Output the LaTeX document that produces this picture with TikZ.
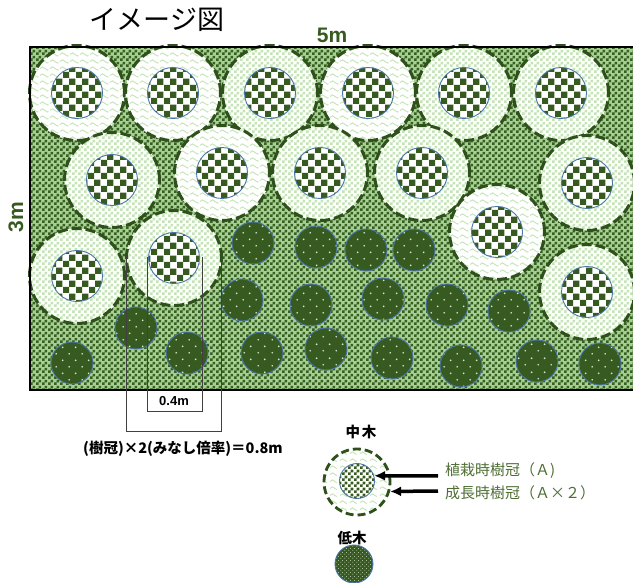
\documentclass[tikz,border=0pt]{standalone}
\usepackage{fontspec}
\setmainfont{Liberation Sans}
\newfontfamily\jpfont{Noto Sans CJK JP}
\usepackage{tikz}
\usetikzlibrary{arrows.meta,patterns}
\definecolor{treegreen}{RGB}{55,90,32}
\definecolor{rimgreen}{RGB}{46,80,26}
\definecolor{bggreen}{RGB}{52,96,32}
\definecolor{bglight}{RGB}{168,206,148}
\definecolor{palegreen}{RGB}{196,228,182}
\definecolor{wavegreen}{RGB}{200,230,188}
\definecolor{dotgreen}{RGB}{214,228,204}
\definecolor{rimblue}{RGB}{74,118,168}
\definecolor{labelgreen}{RGB}{78,110,52}

% fill tiles
\pgfdeclarepatternformonly{smallcheck}{\pgfqpoint{0pt}{0pt}}{\pgfqpoint{6pt}{6pt}}{\pgfqpoint{6pt}{6pt}}{%
  \pgfpathrectangle{\pgfqpoint{0pt}{0pt}}{\pgfqpoint{3pt}{3pt}}%
  \pgfpathrectangle{\pgfqpoint{3pt}{3pt}}{\pgfqpoint{3pt}{3pt}}%
  \pgfusepath{fill}}
\pgfdeclarepatternformonly{bigcheck}{\pgfqpoint{0pt}{0pt}}{\pgfqpoint{12.6pt}{12.6pt}}{\pgfqpoint{12.6pt}{12.6pt}}{%
  \pgfpathrectangle{\pgfqpoint{0pt}{0pt}}{\pgfqpoint{6.3pt}{6.3pt}}%
  \pgfpathrectangle{\pgfqpoint{6.3pt}{6.3pt}}{\pgfqpoint{6.3pt}{6.3pt}}%
  \pgfusepath{fill}}
\pgfdeclarepatternformonly{wavelines}{\pgfqpoint{-1pt}{-1pt}}{\pgfqpoint{11pt}{8pt}}{\pgfqpoint{10pt}{7pt}}{%
  \pgfsetlinewidth{1pt}%
  \pgfpathmoveto{\pgfqpoint{0pt}{3.5pt}}%
  \pgfpathcurveto{\pgfqpoint{1.7pt}{5.6pt}}{\pgfqpoint{3.3pt}{5.6pt}}{\pgfqpoint{5pt}{3.5pt}}%
  \pgfpathcurveto{\pgfqpoint{6.7pt}{1.4pt}}{\pgfqpoint{8.3pt}{1.4pt}}{\pgfqpoint{10pt}{3.5pt}}%
  \pgfusepath{stroke}}
\pgfdeclarepatternformonly{crowndots}{\pgfqpoint{0pt}{0pt}}{\pgfqpoint{13.4pt}{13.4pt}}{\pgfqpoint{13.4pt}{13.4pt}}{%
  \pgfpathcircle{\pgfqpoint{3.35pt}{3.35pt}}{1pt}%
  \pgfpathcircle{\pgfqpoint{10.05pt}{10.05pt}}{1pt}%
  \pgfusepath{fill}}
\pgfdeclarepatternformonly{finedots}{\pgfqpoint{0pt}{0pt}}{\pgfqpoint{4pt}{4pt}}{\pgfqpoint{4pt}{4pt}}{%
  \pgfpathcircle{\pgfqpoint{1pt}{1pt}}{0.55pt}%
  \pgfpathcircle{\pgfqpoint{3pt}{3pt}}{0.55pt}%
  \pgfusepath{fill}}

\begin{document}
\begin{tikzpicture}[x=1pt,y=-1pt,>={Latex[length=11pt,width=10pt]},
  ringbase/.style={circle,inner sep=0pt,minimum size=95pt,draw=rimgreen,line width=3pt,
    dash pattern=on 10pt off 4pt,preaction={fill=white}},
  checkring/.style={ringbase,pattern=smallcheck,pattern color=palegreen},
  wavering/.style={ringbase,pattern=wavelines,pattern color=wavegreen},
  crown/.style={circle,inner sep=0pt,minimum size=51pt,draw=rimblue,line width=0.9pt,
    preaction={fill=white},pattern=bigcheck,pattern color=treegreen},
  lowtree/.style={circle,inner sep=0pt,minimum size=42pt,draw=rimblue,line width=0.9pt,
    preaction={fill=treegreen},pattern=crowndots,pattern color=dotgreen},
  dimline/.style={draw=black!75,line width=1pt},
  jbold/.style={font=\jpfont\bfseries\fontsize{14.5}{16}\selectfont},
  sizelabel/.style={text=treegreen,font=\bfseries\fontsize{21}{24}\selectfont}]
\useasboundingbox (0,0) rectangle (633,583);
\clip (0,0) rectangle (633,583);
%
% planting bed
\path[preaction={fill=bglight},pattern=smallcheck,pattern color=bggreen] (30,47) rectangle (640,390);
%
% middle trees: ring = grown crown, inner = planted crown
\foreach \x/\y/\k [count=\i] in {77/93/wavering,173/93/wavering,270/93/checkring,
    368/93/wavering,464/93/checkring,561/93/checkring,
    112/180/checkring,222/173/wavering,320/173/checkring,422/173/checkring,587/183/checkring,
    77/276/checkring,174/258/checkring,497/232/wavering,587/292/checkring}
{
  \node[\k] (ring\i) at (\x,\y) {};
  \node[crown] (crown\i) at (\x,\y) {};
}
%
% low trees
\foreach \x/\y [count=\i] in {253/243,316/247,366/250,414/250,
    242/300,311/305,383/299,447/305,509/311,136/328,
    72/363,187/353,262/353,326/349,392/358,461/366,537/361,600/364}
  \node[lowtree] (low\i) at (\x,\y) {};
%
\draw[line width=2.5pt] (640,47) -- (30,47) -- (30,390) -- (640,390);
%
% crown width marks
\draw[dimline] (126,255) -- (126,431) -- (221,431) -- (221,255);
\draw[dimline] (147,257) -- (147,411) -- (202,411) -- (202,257);
\node[font=\bfseries\fontsize{13}{15}\selectfont] (w04) at (174,401) {0.4m};
\node[jbold] (w08) at (183,449) {(樹冠)×2(みなし倍率)＝0.8m};
%
\node[font=\jpfont\fontsize{27}{30}\selectfont] (title) at (157,20) {イメージ図};
\node[sizelabel] (wide) at (332,35) {5m};
\node[sizelabel,rotate=90] (deep) at (16,217) {3m};
%
% legend
\node[jbold] (mid) at (361,432) {中\hspace{2pt}木};
\node[circle,inner sep=0pt,minimum size=66pt,draw=rimgreen,line width=2.8pt,
  dash pattern=on 8pt off 4pt,preaction={fill=white},pattern=wavelines,pattern color=wavegreen]
  (legout) at (357,482) {};
\node[circle,inner sep=0pt,minimum size=35pt,draw=rimblue,line width=0.9pt,
  preaction={fill=white},pattern=smallcheck,pattern color=treegreen] (legin) at (357,481) {};
\node[jbold] (low) at (352,538) {低木};
\node[circle,inner sep=0pt,minimum size=38pt,draw=rimblue,line width=0.9pt,
  preaction={fill=treegreen},pattern=finedots,pattern color=dotgreen] (leglow) at (354,564) {};
%
\node[anchor=west,text=labelgreen,font=\jpfont\fontsize{15}{17}\selectfont,inner sep=0pt] (planted) at (445,471) {植栽時樹冠（Ａ)};
\node[anchor=west,text=labelgreen,font=\jpfont\fontsize{15}{17}\selectfont,inner sep=0pt] (grown) at (445,493) {成長時樹冠（Ａ×２）};
\coordinate (tipA) at (438,476);
\coordinate (tipB) at (438,491);
\draw[->,line width=3.5pt] (tipA) -- (legin.17);
\draw[->,line width=3.5pt] (tipB) -- (legout.-16);
\end{tikzpicture}
\end{document}
